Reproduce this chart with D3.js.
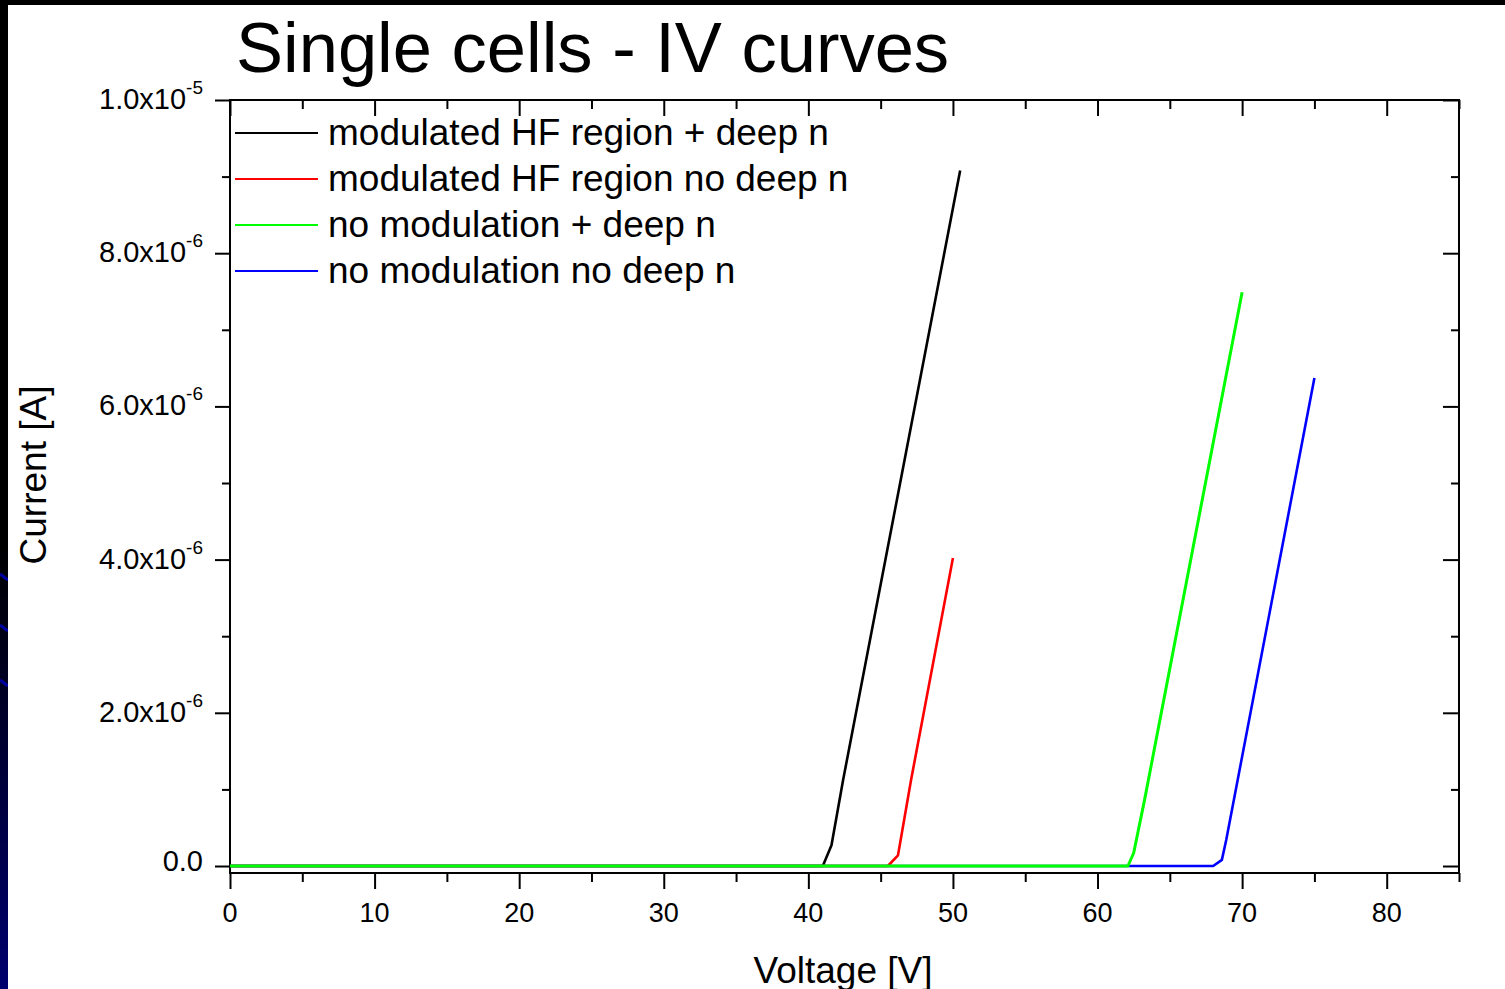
<!DOCTYPE html>
<html><head><meta charset="utf-8">
<script src="https://cdn.jsdelivr.net/npm/d3@7"></script>
<style>
body{margin:0;background:#000;}
svg{display:block}
text{font-family:"Liberation Sans",Arial,Helvetica,sans-serif;fill:#000;}
</style>
</head><body><svg id="c" width="1505" height="989"></svg>
<script>
// ---------- data ----------
const chartTitle = "Single cells - IV curves";
const xTitle = "Voltage [V]";
const yTitle = "Current [A]";
const seriesNames = ["modulated HF region + deep n","modulated HF region no deep n","no modulation + deep n","no modulation no deep n"];
const seriesColors = ["#000000","#ff0000","#00ff00","#0000ff"];
const blackV = [0, 41.0, 41.6, 42.4, 50.5];
const blackI = [0, 0, 0.27e-6, 1.12e-6, 9.08e-6];
const redV = [0, 45.5, 46.2, 47.1, 50.0];
const redI = [0, 0, 0.14e-6, 1.12e-6, 4.02e-6];
const greenV = [0, 62.1, 62.5, 63.25, 70.0];
const greenI = [0, 0, 0.17e-6, 0.86e-6, 7.49e-6];
const blueV = [0, 68.0, 68.6, 68.9, 75.0];
const blueI = [0, 0, 0.08e-6, 0.34e-6, 6.37e-6];
const xMajorTicks = [0,10,20,30,40,50,60,70,80];
const xMinorTicks = [5,15,25,35,45,55,65,75,85];
const yMajorTicks = [0,2e-6,4e-6,6e-6,8e-6,1e-5];
const yMinorTicks = [1e-6,3e-6,5e-6,7e-6,9e-6];
const yTickMantissa = ["0.0","2.0x10","4.0x10","6.0x10","8.0x10","1.0x10"];
const yTickExponent = ["","-6","-6","-6","-6","-5"];
const xDomain = [0, 85];
const yDomain = [-0.0913e-6, 1e-5];

// ---------- layout ----------
const svg = d3.select("#c");
const L = 230, R = 1459, T = 100, B = 873;

// background
const defs = svg.append("defs");
const g1 = defs.append("linearGradient").attr("id","lg").attr("x1",0).attr("y1",0).attr("x2",0).attr("y2",1);
g1.append("stop").attr("offset","0.55").attr("stop-color","#000000");
g1.append("stop").attr("offset","1").attr("stop-color","#00006e");
svg.append("rect").attr("width",1505).attr("height",989).attr("fill","#000");
svg.append("rect").attr("x",0).attr("y",0).attr("width",8).attr("height",989).attr("fill","url(#lg)");
[577,628,683].forEach(y=>{
  svg.append("line").attr("x1",0).attr("y1",y-3).attr("x2",8).attr("y2",y+3).attr("stroke","#0000a0").attr("stroke-width",3);
});
svg.append("rect").attr("x",8).attr("y",5).attr("width",1497).attr("height",984).attr("fill","#fff");

const x = d3.scaleLinear().domain(xDomain).range([L,R]);
const y = d3.scaleLinear().domain(yDomain).range([B,T]);

// title
svg.append("text").attr("x",236).attr("y",72).attr("font-size",70.5).text(chartTitle);

// axes helpers
function styleAxis(g){
  g.select(".domain").remove();
  g.selectAll(".tick line").attr("stroke","#000").attr("stroke-width",2);
  g.selectAll(".tick text").remove();
}
// bottom
svg.append("g").attr("transform",`translate(0,${B})`)
  .call(d3.axisBottom(x).tickValues(xMajorTicks).tickSize(16)).call(styleAxis);
svg.append("g").attr("transform",`translate(0,${B})`)
  .call(d3.axisBottom(x).tickValues(xMinorTicks).tickSize(9)).call(styleAxis);
// top (inward)
svg.append("g").attr("transform",`translate(0,${T})`)
  .call(d3.axisBottom(x).tickValues(xMajorTicks).tickSize(16)).call(styleAxis);
svg.append("g").attr("transform",`translate(0,${T})`)
  .call(d3.axisBottom(x).tickValues(xMinorTicks).tickSize(9)).call(styleAxis);
// left (outward)
svg.append("g").attr("transform",`translate(${L},0)`)
  .call(d3.axisLeft(y).tickValues(yMajorTicks).tickSize(15)).call(styleAxis);
svg.append("g").attr("transform",`translate(${L},0)`)
  .call(d3.axisLeft(y).tickValues(yMinorTicks).tickSize(8)).call(styleAxis);
// right (inward)
svg.append("g").attr("transform",`translate(${R},0)`)
  .call(d3.axisLeft(y).tickValues(yMajorTicks).tickSize(16)).call(styleAxis);
svg.append("g").attr("transform",`translate(${R},0)`)
  .call(d3.axisLeft(y).tickValues(yMinorTicks).tickSize(8)).call(styleAxis);

// frame
svg.append("rect").attr("x",L).attr("y",T).attr("width",R-L).attr("height",B-T)
  .attr("fill","none").attr("stroke","#000").attr("stroke-width",2);

// x tick labels
svg.append("g").selectAll("text").data(xMajorTicks).join("text")
  .attr("x",d=>x(d)).attr("y",922).attr("text-anchor","middle").attr("font-size",27)
  .text(d=>d);

// y tick labels
const yl = svg.append("g").selectAll("text").data(yMajorTicks).join("text")
  .attr("x",203).attr("y",d=>y(d)+ (d===0?5:9)).attr("text-anchor","end").attr("font-size",29);
yl.each(function(d,i){
  const t = d3.select(this);
  t.append("tspan").text(yTickMantissa[i]);
  if (yTickExponent[i]) {
    t.append("tspan").attr("dy",-15).attr("font-size",19).text(yTickExponent[i]);
  }
});

// axis titles
svg.append("text").attr("x",843).attr("y",983).attr("text-anchor","middle").attr("font-size",37).text(xTitle);
svg.append("text").attr("transform","translate(46,475) rotate(-90)").attr("text-anchor","middle").attr("font-size",37).text(yTitle);

// series
const seriesV = [blackV, redV, greenV, blueV];
const seriesI = [blackI, redI, greenI, blueI];
const line = d3.line().x(d=>x(d[0])).y(d=>y(d[1]));
const drawOrder = [0,1,3,2];
const plot = svg.append("g");
drawOrder.forEach(k=>{
  const pts = seriesV[k].map((v,j)=>[v, seriesI[k][j]]);
  plot.append("path").datum(pts).attr("d",line).attr("fill","none")
    .attr("stroke",seriesColors[k]).attr("stroke-width",k===2?3:2.6).attr("stroke-linejoin","round");
});

// legend
const lg = svg.append("g");
seriesNames.forEach((n,i)=>{
  const yy = 133 + i*46;
  lg.append("line").attr("x1",235).attr("x2",318).attr("y1",yy).attr("y2",yy)
    .attr("stroke",seriesColors[i]).attr("stroke-width",2);
  lg.append("text").attr("x",328).attr("y",yy+12).attr("font-size",37).text(n);
});
</script>
</body></html>
